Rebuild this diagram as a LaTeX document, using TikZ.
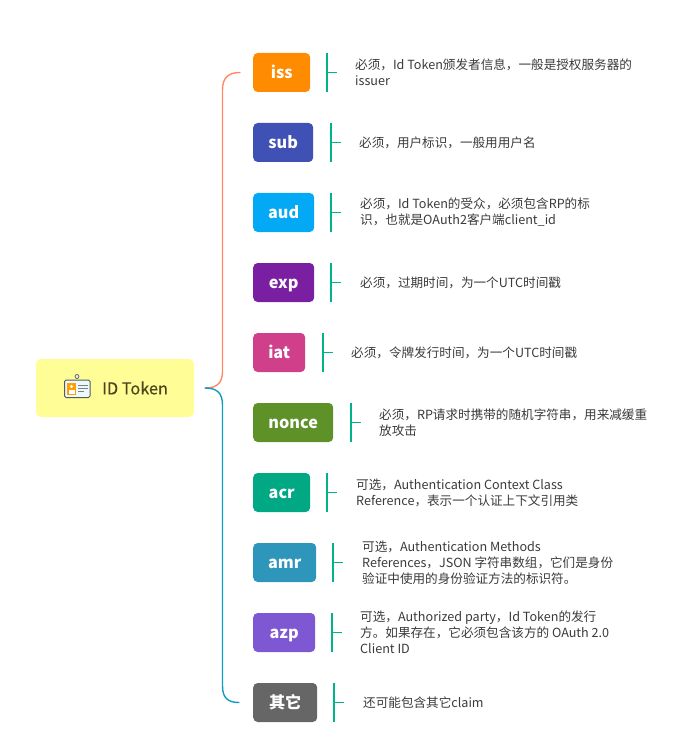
\documentclass[tikz,border=0pt]{standalone}
\usepackage{fontspec}
\setmainfont{Noto Sans CJK SC}
\newfontfamily\titlefont[FakeBold=0.25]{Noto Sans CJK SC}
\usetikzlibrary{positioning}
\definecolor{rootc}{HTML}{FFFD96}
\definecolor{branchA}{HTML}{FF8A65}
\definecolor{branchB}{HTML}{0E9DBE}
\definecolor{barc}{HTML}{00B38A}
\definecolor{txtc}{HTML}{3A3A3A}
\tikzset{
  rootbox/.style={ fill=rootc, rounded corners=5pt, minimum width=158pt, minimum height=58pt, inner sep=0pt },
  tag/.style={ rounded corners=4.5pt, minimum height=39pt, inner sep=0pt, text=white, text height=14.5pt, text depth=3pt, font=\fontsize{16.2}{16}\selectfont\bfseries, anchor=west },
  note/.style={ anchor=west, inner sep=0pt, align=left, text=txtc, font=\fontsize{12.6}{16}\selectfont },
  bar/.style={ draw=barc, line width=1.2pt },
  branch/.style={ line width=1.4pt, line cap=round }
}
\begin{document}
\begin{tikzpicture}[x=1pt, y=-1pt]
  \useasboundingbox (0, 0) rectangle (688, 743);
  \node[rootbox] (root) at (115, 388) {};
  \node[anchor=west, inner sep=0pt, text={rgb,255:red,74;green,70;blue,30}, font=\fontsize{16.3}{16}\titlefont] (title) at (102, 388) {ID Token};
  % badge icon
  \draw[gray!80!black, line width=0.8pt, fill=gray!15] (77, 376.5) circle (2pt);
  \draw[black!65, line width=1pt, fill=cyan!8, rounded corners=1.5pt] (64.5, 380) rectangle (90, 397.5);
  \fill[orange!75!yellow] (67, 383) rectangle (76, 394.5);
  \fill[white] (71.5, 386.5) circle (1.7pt);
  \fill[white] (68.5, 394) rectangle (74.5, 390);
  \draw[gray, line width=1pt] (78, 385) -- (88, 385) (78, 388) -- (88, 388) (78, 391) -- (84, 391);
  % tags
  \node[tag, fill={rgb,255:red,255;green,140;blue,0}, minimum width=57pt] (iss) at (253, 72.5) {iss};
  \node[tag, fill={rgb,255:red,63;green,81;blue,181}, minimum width=60pt] (sub) at (253, 142.5) {sub};
  \node[tag, fill={rgb,255:red,3;green,169;blue,244}, minimum width=61pt] (aud) at (253, 212.5) {aud};
  \node[tag, fill={rgb,255:red,123;green,31;blue,162}, minimum width=61pt] (exp) at (253, 282.5) {exp};
  \node[tag, fill={rgb,255:red,208;green,64;blue,138}, minimum width=52pt] (iat) at (253, 352.5) {iat};
  \node[tag, fill={rgb,255:red,94;green,145;blue,40}, minimum width=80pt] (nonce) at (253, 422.5) {nonce};
  \node[tag, fill={rgb,255:red,0;green,168;blue,132}, minimum width=57pt] (acr) at (253, 492.5) {acr};
  \node[tag, fill={rgb,255:red,47;green,150;blue,187}, minimum width=63pt] (amr) at (253, 562.5) {amr};
  \node[tag, fill={rgb,255:red,126;green,87;blue,210}, minimum width=62pt] (azp) at (253, 632.5) {azp};
  \node[tag, fill={rgb,255:red,102;green,102;blue,102}, minimum width=64pt] (other) at (253, 702.5) {其它};
  % notes
  \node[note] (issn) at (355, 72.5) {必须，Id Token颁发者信息，一般是授权服务器的\\issuer};
  \node[note] (subn) at (359, 142.5) {必须，用户标识，一般用用户名};
  \node[note] (audn) at (360, 212.5) {必须，Id Token的受众，必须包含RP的标\\识，也就是OAuth2客户端client\_id};
  \node[note] (expn) at (360, 282.5) {必须，过期时间，为一个UTC时间戳};
  \node[note] (iatn) at (351, 352.5) {必须，令牌发行时间，为一个UTC时间戳};
  \node[note] (noncen) at (379, 422.5) {必须，RP请求时携带的随机字符串，用来减缓重\\放攻击};
  \node[note] (acrn) at (356, 492.5) {可选，Authentication Context Class\\Reference，表示一个认证上下文引用类};
  \node[note] (amrn) at (362, 562.5) {可选，Authentication Methods\\References，JSON 字符串数组，它们是身份\\验证中使用的身份验证方法的标识符。};
  \node[note] (azpn) at (360, 632.5) {可选，Authorized party，Id Token的发行\\方。如果存在，它必须包含该方的 OAuth 2.0\\Client ID};
  \node[note] (othern) at (363, 702.5) {还可能包含其它claim};
  % bars
  \draw[bar] (327, 53) coordinate (issa) -- (327, 92) (327, 72.5) -- (337, 72.5);
  \draw[bar] (331, 123) coordinate (suba) -- (331, 162) (331, 142.5) -- (341, 142.5);
  \draw[bar] (331, 193) coordinate (auda) -- (331, 232) (331, 212.5) -- (341, 212.5);
  \draw[bar] (331, 263) coordinate (expa) -- (331, 302) (331, 282.5) -- (341, 282.5);
  \draw[bar] (323, 333) coordinate (iata) -- (323, 372) (323, 352.5) -- (333, 352.5);
  \draw[bar] (351, 403) coordinate (noncea) -- (351, 442) (351, 422.5) -- (361, 422.5);
  \draw[bar] (327, 473) coordinate (acra) -- (327, 512) (327, 492.5) -- (337, 492.5);
  \draw[bar] (333, 543) coordinate (amra) -- (333, 582) (333, 562.5) -- (343, 562.5);
  \draw[bar] (332, 613) coordinate (azpa) -- (332, 652) (332, 632.5) -- (342, 632.5);
  \draw[bar] (334, 683) coordinate (othera) -- (334, 722) (334, 702.5) -- (344, 702.5);
  % branches
  \coordinate (hub) at ([xshift=11pt]root.east);
  \coordinate (issend) at ([xshift=-13pt]iss.west);
  \coordinate (otherend) at ([xshift=-14pt]other.west);
  \draw[branch, branchA] (hub) .. controls (217, 388) and (222.5, 383) .. (222.5, 371) -- (222.5, 90) .. controls (222.5, 78) and (228, 72.5) .. (issend);
  \draw[branch, branchB] (hub) .. controls (217, 388) and (222.5, 393) .. (222.5, 405) -- (222.5, 686) .. controls (222.5, 698) and (228, 702.5) .. (otherend);
\end{tikzpicture}
\end{document}
